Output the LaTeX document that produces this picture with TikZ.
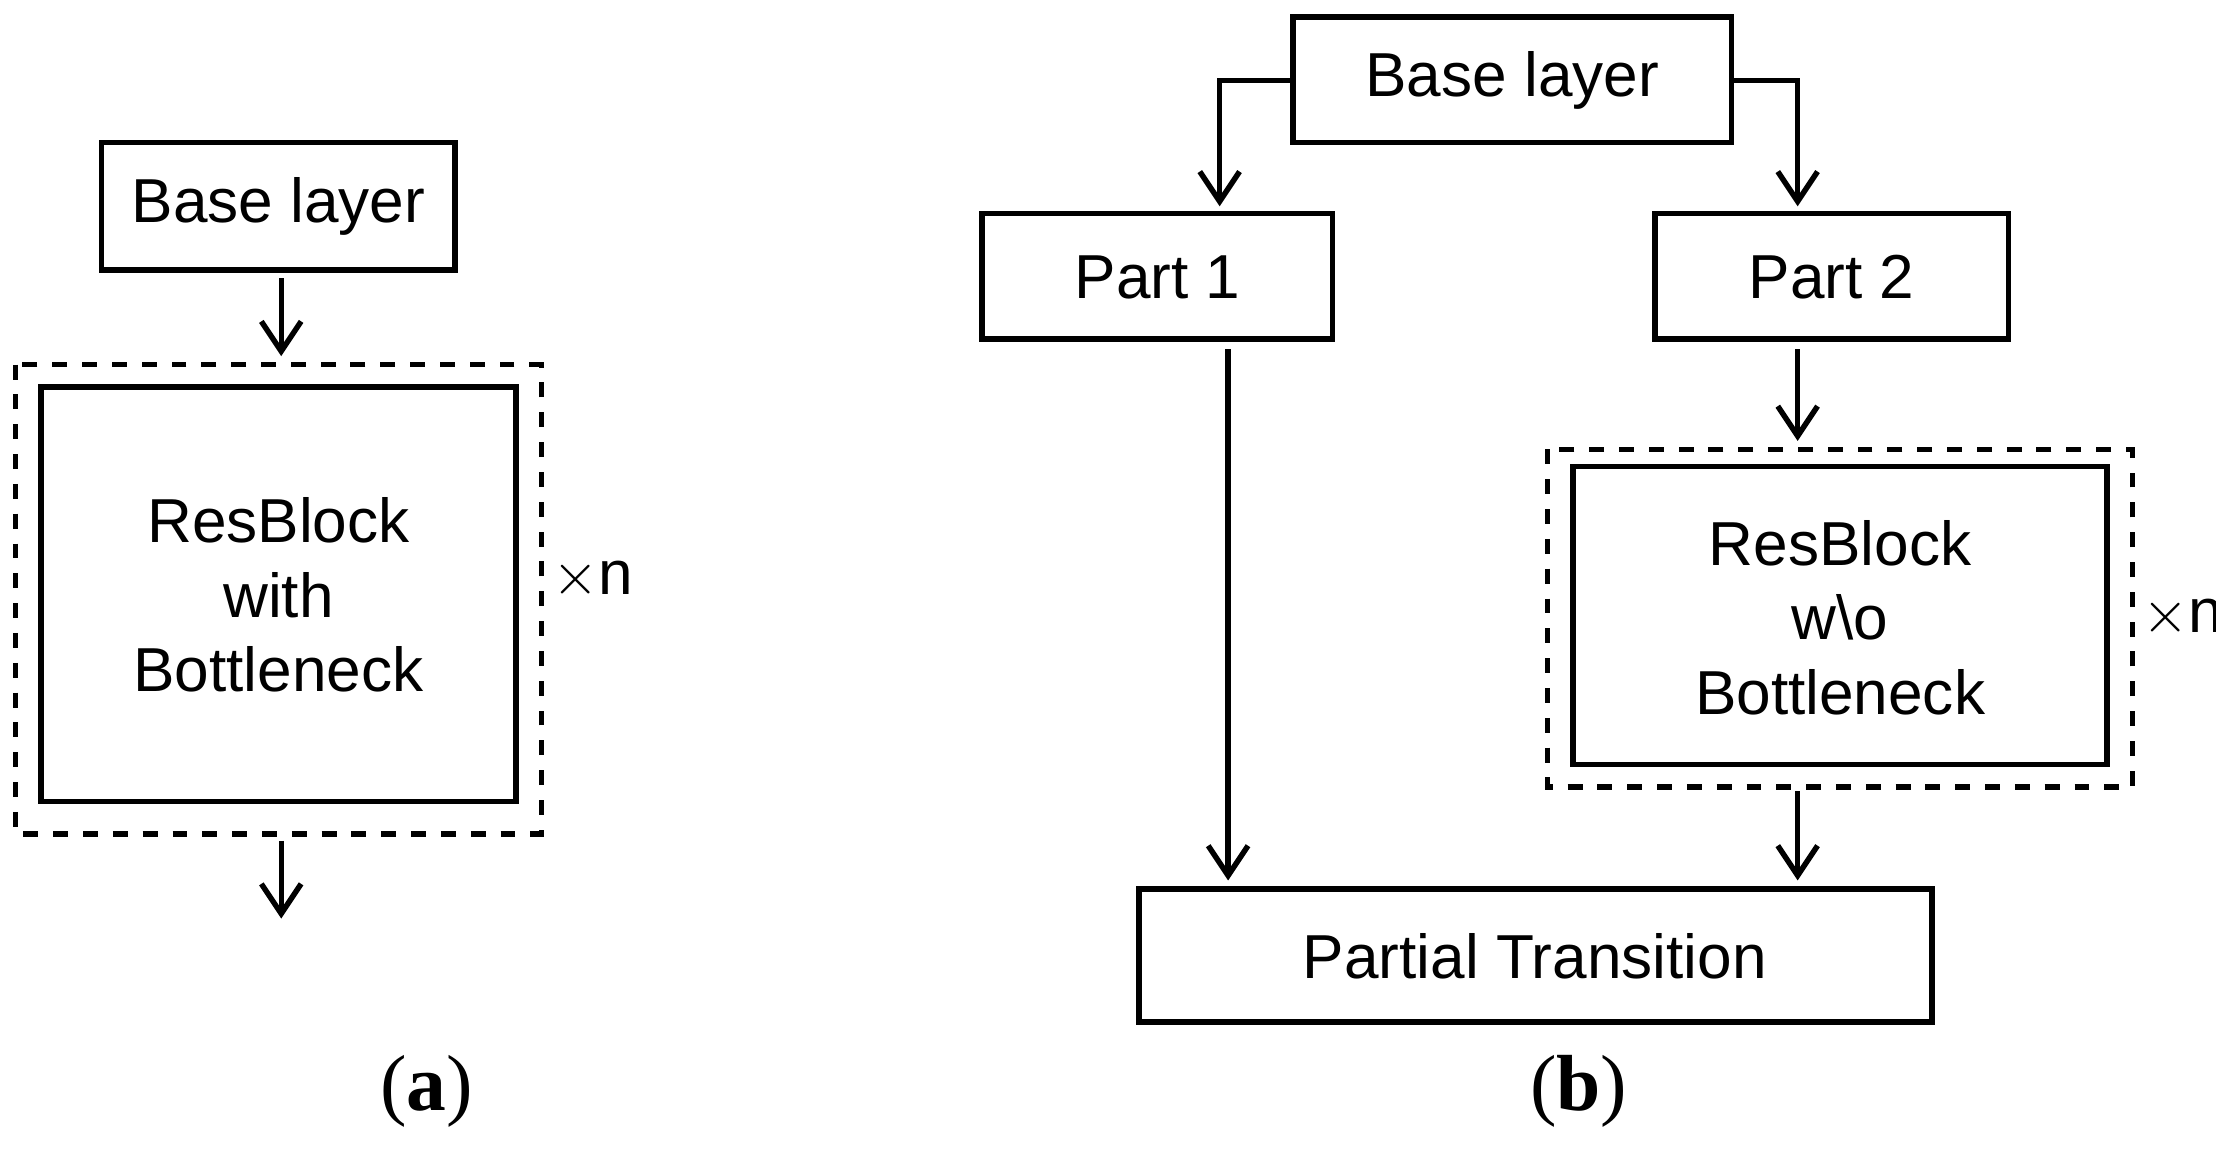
\documentclass[tikz,border=0pt]{standalone}
\usepackage{fontspec}
\setmainfont{Liberation Sans}
\newfontfamily\serif{Liberation Serif}
\usetikzlibrary{arrows.meta}
\begin{document}
\begin{tikzpicture}[x=0.01cm,y=-0.01cm,
  box/.style={draw,line width=1.1pt,inner sep=0pt},
  dbox/.style={draw,dashed,line width=1.1pt},
  arr/.style={-{Straight Barb[length=6pt,width=8pt]},line width=1.1pt},
  txt/.style={font=\fontsize{12.5}{15}\selectfont,align=center},
  lab/.style={font=\serif\fontsize{16}{19}\selectfont}]
\useasboundingbox (0,0) rectangle (1568,816);
% (a)
\draw[box] (72,101) rectangle (322,191);
\node[txt] (abase) at (197,146) {Base layer};
\coordinate (abot) at (199,197);
\coordinate (adashtop) at (199,252);
\draw[arr] (abot) -- (adashtop);
\draw[dbox] (11,258) rectangle (383,590);
\draw[box] (29,274) rectangle (365,567);
\node[txt] (ares) at (197,421) {ResBlock\\with\\Bottleneck};
\node[txt,anchor=west,inner sep=0pt] (axn) at (390,410) {$\times$n};
\coordinate (aout1) at (199,595);
\coordinate (aout2) at (199,650);
\draw[arr] (aout1) -- (aout2);
\node[lab] (la) at (302,772) {(\textbf{a})};
% (b)
\draw[box] (915,12) rectangle (1225,101);
\node[txt] (bbase) at (1070,57) {Base layer};
\draw[box] (695,151) rectangle (943,240);
\node[txt] (p1) at (819,196) {Part 1};
\draw[box] (1171,151) rectangle (1421,240);
\node[txt] (p2) at (1296,196) {Part 2};
\coordinate (bl) at (915,57);
\coordinate (br) at (1225,57);
\coordinate (p1t) at (863,146);
\coordinate (p2t) at (1272,146);
\draw[arr] (bl) -| (p1t);
\draw[arr] (br) -| (p2t);
\coordinate (p2b) at (1272,247);
\coordinate (dtop) at (1272,312);
\draw[arr] (p2b) -- (dtop);
\draw[dbox] (1095,318) rectangle (1509,557);
\draw[box] (1113,330) rectangle (1491,541);
\node[txt] (bres) at (1302,437) {ResBlock\\w\textbackslash o\\Bottleneck};
\node[txt,anchor=west,inner sep=0pt] (bxn) at (1515,437) {$\times$n};
\coordinate (p1b) at (869,247);
\coordinate (pt1) at (869,623);
\draw[arr] (p1b) -- (pt1);
\coordinate (db) at (1272,560);
\coordinate (pt2) at (1272,623);
\draw[arr] (db) -- (pt2);
\draw[box] (806,629) rectangle (1367,723);
\node[txt] (pt) at (1086,677) {Partial Transition};
\node[lab] (lb) at (1117,772) {(\textbf{b})};
\end{tikzpicture}
\end{document}
